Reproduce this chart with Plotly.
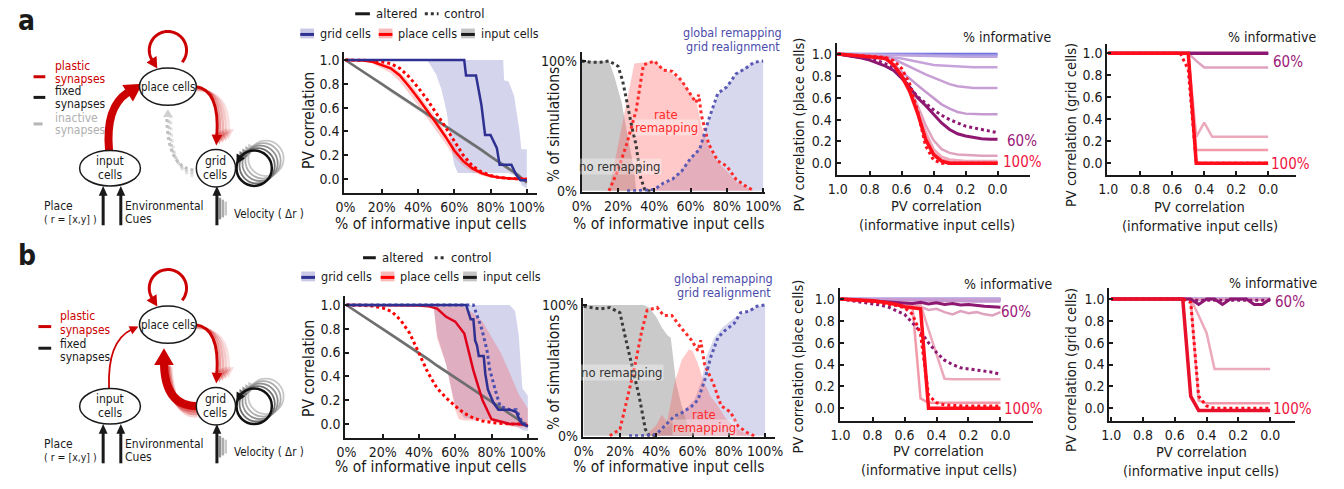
import math
import plotly.graph_objects as go

W, H = 1344, 489
FONT = "Liberation Sans Narrow, DejaVu Sans Condensed, Arial Narrow, sans-serif"
INK = "#1a1a1a"

# ---------------------------------------------------------------- DATA
PCT = [0.0, 0.05, 0.1, 0.15, 0.2, 0.25, 0.3, 0.35, 0.4, 0.45, 0.5,
       0.55, 0.6, 0.65, 0.7, 0.75, 0.8, 0.85, 0.9, 0.95, 1.0]
PV_IN = [1.0, 0.95, 0.9, 0.85, 0.8, 0.75, 0.7, 0.65, 0.6, 0.55, 0.5,
         0.45, 0.4, 0.35, 0.3, 0.25, 0.2, 0.15, 0.1, 0.05, 0.0]
PCT_TICKS = [0, 0.2, 0.4, 0.6, 0.8, 1.0]
PCT_LABELS = ["0%", "20%", "40%", "60%", "80%", "100%"]
PV_TICKS = [0.0, 0.2, 0.4, 0.6, 0.8, 1.0]
PV_LABELS = ["0.0", "0.2", "0.4", "0.6", "0.8", "1.0"]
SIM_TICKS = [0, 1]
SIM_LABELS = ["0%", "100%"]

# --- row a, PV correlation vs % informative input cells
a_input = [1.0, 0.95, 0.9, 0.85, 0.8, 0.745, 0.695, 0.645, 0.595, 0.545, 0.495,
           0.445, 0.395, 0.345, 0.295, 0.245, 0.19, 0.14, 0.09, 0.035, -0.03]
a_input_lo = [0.99, 0.94, 0.89, 0.835, 0.785, 0.73, 0.68, 0.63, 0.58, 0.53, 0.48,
              0.43, 0.38, 0.33, 0.28, 0.23, 0.175, 0.125, 0.075, 0.02, -0.05]
a_input_hi = [1.0, 0.96, 0.91, 0.865, 0.815, 0.76, 0.71, 0.66, 0.61, 0.56, 0.51,
              0.46, 0.41, 0.36, 0.31, 0.26, 0.205, 0.155, 0.105, 0.05, -0.01]
a_place = [1.0, 1.0, 0.995, 0.985, 0.96, 0.93, 0.87, 0.78, 0.68, 0.58, 0.47,
           0.36, 0.24, 0.15, 0.09, 0.05, 0.025, 0.012, 0.005, 0.0, 0.0]
a_place_lo = [1.0, 0.995, 0.985, 0.97, 0.93, 0.89, 0.82, 0.72, 0.62, 0.52, 0.41,
              0.3, 0.19, 0.11, 0.06, 0.03, 0.012, 0.004, 0.0, -0.005, -0.005]
a_place_hi = [1.0, 1.0, 1.0, 0.995, 0.98, 0.955, 0.9, 0.82, 0.72, 0.62, 0.51,
              0.4, 0.28, 0.18, 0.11, 0.07, 0.035, 0.02, 0.01, 0.005, 0.005]
a_place_ctl = [1.0, 1.0, 0.998, 0.993, 0.985, 0.97, 0.93, 0.86, 0.77, 0.67, 0.56,
               0.44, 0.32, 0.2, 0.11, 0.06, 0.03, 0.012, 0.005, 0.0, 0.0]
a_grid_x = [0.0, 0.655, 0.665, 0.72, 0.75, 0.77, 0.8, 0.835, 0.85, 0.915, 0.94, 0.965, 1.0]
a_grid = [1.0, 1.0, 0.87, 0.87, 0.62, 0.37, 0.37, 0.26, 0.12, 0.12, 0.04, -0.01, -0.01]
a_gband_x = [0.45, 0.5, 0.53, 0.56, 0.58, 0.6, 0.62, 0.7, 0.8, 0.87, 0.875, 0.9, 0.93, 0.96, 0.97, 1.0]
a_gband_hi = [1.0, 1.0, 1.0, 1.0, 1.0, 1.0, 1.0, 1.0, 1.0, 1.0, 0.83, 0.82, 0.7, 0.4, 0.25, 0.25]
a_gband_lo = [1.0, 0.88, 0.75, 0.55, 0.3, 0.12, 0.05, 0.05, 0.05, 0.05, 0.05, 0.05, 0.03, 0.0, -0.05, -0.08]

# --- row b, PV correlation vs % informative input cells
b_input = [1.0, 0.95, 0.9, 0.85, 0.8, 0.75, 0.7, 0.645, 0.595, 0.545, 0.49,
           0.44, 0.39, 0.34, 0.29, 0.24, 0.19, 0.14, 0.09, 0.035, -0.02]
b_input_lo = [0.99, 0.94, 0.89, 0.835, 0.785, 0.735, 0.685, 0.63, 0.58, 0.53, 0.475,
              0.425, 0.375, 0.325, 0.275, 0.225, 0.175, 0.125, 0.075, 0.02, -0.04]
b_input_hi = [1.0, 0.96, 0.91, 0.865, 0.815, 0.765, 0.715, 0.66, 0.61, 0.56, 0.505,
              0.455, 0.405, 0.355, 0.305, 0.255, 0.205, 0.155, 0.105, 0.05, 0.0]
b_place = [1.0, 1.0, 1.0, 1.0, 1.0, 1.0, 1.0, 0.998, 0.995, 0.99, 0.97,
           0.9, 0.86, 0.76, 0.45, 0.2, 0.04, 0.02, 0.0, 0.0, -0.01]
b_place_ctl = [1.0, 1.0, 0.995, 0.99, 0.975, 0.945, 0.87, 0.76, 0.6, 0.43, 0.3,
               0.22, 0.15, 0.09, 0.05, 0.025, 0.012, 0.005, 0.0, 0.0, 0.0]
b_pband_x = [0.45, 0.48, 0.5, 0.55, 0.6, 0.62, 0.65, 0.7, 0.75, 0.8, 0.85, 0.9, 0.95, 1.0]
b_pband_hi = [1.0, 1.0, 1.0, 1.0, 1.0, 1.0, 0.98, 0.93, 0.86, 0.73, 0.6, 0.43, 0.25, 0.13]
b_pband_lo = [1.0, 1.0, 0.72, 0.5, 0.12, 0.04, 0.03, 0.03, 0.03, 0.02, 0.0, -0.02, -0.03, -0.03]
b_grid_x = [0.0, 0.66, 0.685, 0.7, 0.71, 0.72, 0.73, 0.757, 0.766, 0.78, 0.81, 0.838, 0.9, 0.937, 0.955, 0.97, 1.0]
b_grid = [1.0, 1.0, 0.88, 0.88, 0.7, 0.66, 0.57, 0.57, 0.42, 0.29, 0.18, 0.12, 0.12, 0.1, 0.03, 0.0, -0.02]
b_grid_ctl_x = [0.0, 0.7, 0.73, 0.748, 0.775, 0.79, 0.82, 0.847, 0.9, 0.937, 0.97, 1.0]
b_grid_ctl = [1.0, 1.0, 0.87, 0.79, 0.62, 0.46, 0.29, 0.15, 0.12, 0.12, 0.01, -0.01]
b_gband_x = [0.45, 0.48, 0.5, 0.55, 0.6, 0.65, 0.7, 0.75, 0.8, 0.85, 0.9, 0.93, 0.95, 0.97, 1.0]
b_gband_hi = [1.0, 1.0, 1.0, 1.0, 1.0, 1.0, 1.0, 1.0, 1.0, 1.0, 1.0, 0.95, 0.75, 0.3, 0.24]
b_gband_lo = [1.0, 1.0, 0.75, 0.5, 0.15, 0.05, 0.04, 0.04, 0.04, 0.02, 0.0, -0.02, -0.03, -0.05, -0.06]

# --- row a, % of simulations (fills = altered, dotted = control)
a3_none_x = [0.0, 0.05, 0.1, 0.15, 0.18, 0.22, 0.25, 0.29, 0.3]
a3_none = [1.0, 1.0, 1.0, 1.0, 0.88, 0.68, 0.45, 0.15, 0.0]
a3_rate_x = [0.15, 0.2, 0.25, 0.29, 0.35, 0.4, 0.45, 0.5, 0.55, 0.6, 0.63, 0.66, 0.7, 0.75, 0.8, 0.85, 0.9, 0.95]
a3_rate = [0.0, 0.35, 0.7, 0.98, 0.99, 1.0, 0.94, 0.9, 0.85, 0.75, 0.7, 0.5, 0.33, 0.22, 0.15, 0.07, 0.03, 0.0]
a3_glob_x = [0.25, 0.3, 0.35, 0.4, 0.45, 0.5, 0.55, 0.6, 0.65, 0.7, 0.75, 0.8, 0.85, 0.9, 0.95, 1.0]
a3_glob = [0.0, 0.0, 0.003, 0.01, 0.05, 0.09, 0.16, 0.25, 0.33, 0.55, 0.74, 0.81, 0.9, 0.95, 0.99, 1.0]
a3_none_ctl_x = [0.0, 0.05, 0.1, 0.15, 0.2, 0.225, 0.25, 0.275, 0.3, 0.325, 0.35, 0.4]
a3_none_ctl = [1.0, 0.99, 0.99, 1.0, 0.96, 0.85, 0.68, 0.5, 0.35, 0.1, 0.0, 0.0]
a3_rate_ctl_x = [0.15, 0.2, 0.25, 0.3, 0.34, 0.4, 0.45, 0.5, 0.55, 0.6, 0.63, 0.645, 0.66, 0.7, 0.75, 0.8, 0.85, 0.9, 0.95]
a3_rate_ctl = [0.0, 0.16, 0.37, 0.62, 0.97, 1.0, 0.93, 0.92, 0.85, 0.75, 0.68, 0.74, 0.58, 0.36, 0.23, 0.19, 0.09, 0.04, 0.0]
a3_glob_ctl_x = [0.25, 0.3, 0.35, 0.4, 0.45, 0.5, 0.55, 0.6, 0.65, 0.7, 0.75, 0.8, 0.85, 0.9, 0.95, 1.0]
a3_glob_ctl = [0.0, 0.0, 0.005, 0.01, 0.06, 0.09, 0.15, 0.25, 0.32, 0.55, 0.75, 0.8, 0.9, 0.94, 0.99, 1.0]

# --- row b, % of simulations
b3_none_x = [0.0, 0.1, 0.2, 0.3, 0.33, 0.36, 0.4, 0.43, 0.46, 0.48, 0.495, 0.51, 0.54, 0.575, 0.6]
b3_none = [1.0, 1.0, 1.0, 1.0, 1.0, 0.98, 0.91, 0.83, 0.77, 0.75, 0.55, 0.4, 0.23, 0.075, 0.0]
b3_rate_x = [0.34, 0.4, 0.43, 0.46, 0.5, 0.54, 0.58, 0.6, 0.63, 0.66, 0.7, 0.74, 0.78, 0.82, 0.86, 0.9, 0.94]
b3_rate = [0.0, 0.08, 0.16, 0.11, 0.4, 0.58, 0.66, 0.65, 0.55, 0.42, 0.3, 0.23, 0.14, 0.08, 0.04, 0.01, 0.0]
b3_glob_x = [0.32, 0.41, 0.47, 0.54, 0.61, 0.65, 0.675, 0.72, 0.766, 0.83, 0.9, 0.955, 1.0]
b3_glob = [0.0, 0.025, 0.075, 0.175, 0.275, 0.42, 0.6, 0.75, 0.83, 0.9, 0.95, 0.99, 1.0]
b3_none_ctl_x = [0.0, 0.09, 0.144, 0.2, 0.23, 0.27, 0.306, 0.34, 0.36, 0.4]
b3_none_ctl = [0.99, 0.97, 0.98, 0.94, 0.75, 0.52, 0.3, 0.05, 0.0, 0.0]
b3_rate_ctl_x = [0.144, 0.2, 0.23, 0.28, 0.32, 0.35, 0.405, 0.44, 0.486, 0.54, 0.595, 0.63, 0.645,
                 0.666, 0.72, 0.757, 0.81, 0.85, 0.9, 0.94]
b3_rate_ctl = [0.0, 0.05, 0.225, 0.52, 0.8, 0.96, 0.98, 0.92, 0.92, 0.82, 0.73, 0.65, 0.73,
               0.55, 0.38, 0.23, 0.18, 0.075, 0.025, 0.0]
b3_glob_ctl_x = [0.25, 0.32, 0.4, 0.43, 0.5, 0.54, 0.595, 0.63, 0.666, 0.7, 0.74, 0.775, 0.83,
                 0.865, 0.91, 0.955, 1.0]
b3_glob_ctl = [0.0, 0.0, 0.01, 0.05, 0.15, 0.175, 0.225, 0.275, 0.42, 0.6, 0.75, 0.8, 0.86,
               0.94, 0.95, 0.99, 1.0]

# --- row a, place cells vs PV of informative inputs, per % informative
a4_p00 = [1.0, 1.0, 1.0, 1.0, 1.0, 1.0, 1.0, 1.0, 1.0, 1.0, 1.0, 1.0, 1.0, 1.0, 1.0, 1.0, 1.0, 1.0, 1.0, 1.0, 1.0]
a4_p10 = [1.0, 1.0, 1.0, 1.0, 1.0, 1.0, 0.999, 0.998, 0.997, 0.996, 0.995, 0.994, 0.993, 0.993, 0.992, 0.992, 0.992, 0.992, 0.992, 0.992, 0.992]
a4_p20 = [1.0, 1.0, 1.0, 0.998, 0.996, 0.994, 0.992, 0.99, 0.988, 0.985, 0.982, 0.98, 0.978, 0.977, 0.976, 0.975, 0.975, 0.975, 0.975, 0.975, 0.975]
a4_p30 = [1.0, 1.0, 0.998, 0.995, 0.99, 0.985, 0.978, 0.97, 0.96, 0.945, 0.925, 0.91, 0.9, 0.895, 0.89, 0.885, 0.88, 0.88, 0.88, 0.88, 0.88]
a4_p40 = [1.0, 1.0, 0.998, 0.995, 0.99, 0.985, 0.975, 0.955, 0.92, 0.88, 0.845, 0.815, 0.785, 0.755, 0.725, 0.705, 0.695, 0.69, 0.69, 0.69, 0.69]
a4_p50 = [1.0, 1.0, 0.997, 0.993, 0.985, 0.975, 0.955, 0.905, 0.84, 0.775, 0.715, 0.655, 0.595, 0.54, 0.5, 0.47, 0.455, 0.45, 0.45, 0.45, 0.45]
a4_p60 = [1.0, 0.99, 0.98, 0.965, 0.945, 0.92, 0.89, 0.85, 0.78, 0.7, 0.6, 0.53, 0.45, 0.37, 0.31, 0.27, 0.25, 0.235, 0.225, 0.22, 0.22]
a4_p60c = [1.0, 0.99, 0.985, 0.975, 0.96, 0.94, 0.91, 0.87, 0.8, 0.7, 0.61, 0.55, 0.49, 0.44, 0.4, 0.37, 0.34, 0.325, 0.31, 0.295, 0.28]
a4_p70 = [1.0, 0.995, 0.99, 0.985, 0.975, 0.965, 0.95, 0.9, 0.82, 0.69, 0.53, 0.35, 0.21, 0.13, 0.095, 0.08, 0.075, 0.07, 0.07, 0.07, 0.07]
a4_p80 = [1.0, 0.995, 0.99, 0.985, 0.98, 0.97, 0.955, 0.9, 0.81, 0.68, 0.5, 0.29, 0.13, 0.06, 0.035, 0.025, 0.02, 0.02, 0.02, 0.02, 0.02]
a4_p90 = [1.0, 0.995, 0.99, 0.985, 0.98, 0.97, 0.96, 0.9, 0.8, 0.67, 0.48, 0.26, 0.1, 0.035, 0.015, 0.01, 0.01, 0.01, 0.01, 0.01, 0.01]
a4_p100 = [1.0, 0.995, 0.99, 0.985, 0.98, 0.97, 0.96, 0.9, 0.8, 0.66, 0.46, 0.22, 0.08, 0.02, 0.0, 0.0, 0.0, 0.0, 0.0, 0.0, 0.0]
a4_p100c = [1.0, 0.995, 0.99, 0.985, 0.98, 0.975, 0.97, 0.94, 0.87, 0.73, 0.48, 0.16, 0.03, 0.0, 0.0, 0.0, 0.0, 0.0, 0.0, 0.0, 0.0]

# --- row a, grid cells
a5_p0_60 = [1.0, 1.0, 1.0, 1.0, 1.0, 1.0, 1.0, 1.0, 1.0, 1.0, 1.0, 1.0, 1.0, 1.0, 1.0, 1.0, 1.0, 1.0, 1.0, 1.0, 1.0]
a5_p70 = [1.0, 1.0, 1.0, 1.0, 1.0, 1.0, 1.0, 1.0, 1.0, 1.0, 1.0, 0.93, 0.87, 0.87, 0.87, 0.87, 0.87, 0.87, 0.87, 0.87, 0.87]
a5_p80 = [1.0, 1.0, 1.0, 1.0, 1.0, 1.0, 1.0, 1.0, 1.0, 1.0, 1.0, 0.24, 0.37, 0.24, 0.24, 0.24, 0.24, 0.24, 0.24, 0.24, 0.24]
a5_p90 = [1.0, 1.0, 1.0, 1.0, 1.0, 1.0, 1.0, 1.0, 1.0, 1.0, 1.0, 0.12, 0.12, 0.12, 0.12, 0.12, 0.12, 0.12, 0.12, 0.12, 0.12]
a5_p100 = [1.0, 1.0, 1.0, 1.0, 1.0, 1.0, 1.0, 1.0, 1.0, 1.0, 1.0, 0.0, 0.0, 0.0, 0.0, 0.0, 0.0, 0.0, 0.0, 0.0, 0.0]
a5_p100c = [1.0, 1.0, 1.0, 1.0, 1.0, 1.0, 1.0, 1.0, 1.0, 1.0, 0.85, 0.0, 0.0, 0.0, 0.0, 0.0, 0.0, 0.0, 0.0, 0.0, 0.0]

# --- row b, place cells
b4_p0_30 = [1.0, 1.0, 1.0, 1.0, 1.0, 1.0, 1.0, 1.0, 1.0, 1.0, 1.0, 1.0, 1.0, 1.0, 1.0, 1.0, 1.0, 1.0, 1.0, 1.0, 1.0]
b4_p40 = [1.0, 1.0, 1.0, 1.0, 1.0, 0.999, 0.998, 0.997, 0.996, 0.995, 0.994, 0.993, 0.992, 0.991, 0.99, 0.99, 0.99, 0.99, 0.99, 0.99, 0.99]
b4_p50 = [1.0, 1.0, 1.0, 0.999, 0.998, 0.996, 0.994, 0.992, 0.99, 0.988, 0.986, 0.984, 0.982, 0.98, 0.98, 0.98, 0.978, 0.978, 0.978, 0.978, 0.978]
b4_p60 = [1.0, 0.995, 0.99, 0.985, 0.98, 0.975, 0.97, 0.97, 0.965, 0.96, 0.97, 0.955, 0.965, 0.95, 0.96, 0.945, 0.95, 0.94, 0.935, 0.93, 0.925]
b4_p60c = [1.0, 0.99, 0.98, 0.97, 0.96, 0.945, 0.925, 0.895, 0.86, 0.78, 0.7, 0.6, 0.51, 0.44, 0.4, 0.37, 0.36, 0.355, 0.345, 0.33, 0.31]
b4_p70 = [1.0, 0.995, 0.99, 0.985, 0.98, 0.975, 0.97, 0.965, 0.96, 0.95, 0.93, 0.9, 0.91, 0.88, 0.86, 0.89, 0.87, 0.88, 0.86, 0.85, 0.88]
b4_p80 = [1.0, 0.995, 0.99, 0.985, 0.98, 0.975, 0.97, 0.965, 0.96, 0.96, 0.95, 0.72, 0.5, 0.27, 0.265, 0.265, 0.265, 0.265, 0.265, 0.265, 0.265]
b4_p90 = [1.0, 0.995, 0.99, 0.985, 0.98, 0.975, 0.97, 0.965, 0.96, 0.93, 0.09, 0.05, 0.05, 0.05, 0.05, 0.05, 0.05, 0.05, 0.05, 0.05, 0.05]
b4_p100 = [1.0, 0.998, 0.995, 0.99, 0.985, 0.975, 0.965, 0.95, 0.93, 0.92, 0.91, 0.0, 0.0, 0.0, 0.0, 0.0, 0.0, 0.0, 0.0, 0.0, 0.0]
b4_p100c = [1.0, 0.995, 0.99, 0.985, 0.975, 0.965, 0.955, 0.94, 0.92, 0.86, 0.68, 0.12, 0.05, 0.03, 0.025, 0.02, 0.02, 0.02, 0.02, 0.02, 0.02]

# --- row b, grid cells
b5_p0_50 = [1.0, 1.0, 1.0, 1.0, 1.0, 1.0, 1.0, 1.0, 1.0, 1.0, 1.0, 1.0, 1.0, 1.0, 1.0, 1.0, 1.0, 1.0, 1.0, 1.0, 1.0]
b5_p60 = [1.0, 1.0, 1.0, 1.0, 1.0, 1.0, 1.0, 1.0, 1.0, 1.0, 1.0, 0.95, 1.0, 1.0, 0.95, 1.0, 1.0, 1.0, 0.95, 0.95, 1.0]
b5_p60c = [1.0, 1.0, 1.0, 1.0, 1.0, 1.0, 1.0, 1.0, 1.0, 1.0, 0.99, 0.99, 0.99, 0.99, 0.99, 0.99, 0.99, 0.99, 0.99, 0.99, 0.99]
b5_p70 = [1.0, 1.0, 1.0, 1.0, 1.0, 1.0, 1.0, 1.0, 1.0, 1.0, 0.995, 0.995, 0.995, 0.995, 0.995, 0.995, 0.995, 0.995, 0.995, 0.995, 0.995]
b5_p80 = [1.0, 1.0, 1.0, 1.0, 1.0, 1.0, 1.0, 1.0, 1.0, 1.0, 1.0, 0.85, 0.69, 0.36, 0.36, 0.36, 0.36, 0.36, 0.36, 0.36, 0.36]
b5_p90 = [1.0, 1.0, 1.0, 1.0, 1.0, 1.0, 1.0, 1.0, 1.0, 1.0, 1.0, 0.07, 0.045, 0.045, 0.045, 0.045, 0.045, 0.045, 0.045, 0.045, 0.045]
b5_p100 = [1.0, 1.0, 1.0, 1.0, 1.0, 1.0, 1.0, 1.0, 1.0, 1.0, 0.11, -0.02, -0.02, -0.02, -0.02, -0.02, -0.02, -0.02, -0.02, -0.02, -0.02]
b5_p100c = [1.0, 1.0, 1.0, 1.0, 1.0, 1.0, 1.0, 1.0, 1.0, 1.0, 0.97, 0.11, 0.02, 0.0, 0.0, 0.0, 0.0, 0.0, 0.0, 0.0, 0.0]

# ---------------------------------------------------------------- STYLE
C_GRID, C_PLACE, C_INPUT = "#2e3192", "#ff0000", "#6e6e6e"
B_GRID, B_PLACE, B_INPUT = "rgba(120,120,200,0.32)", "rgba(255,60,60,0.25)", "rgba(120,120,120,0.35)"
PCOL = {0: "#6464dc", 10: "#9a94e4", 20: "#bda6e0", 30: "#c6a3da", 40: "#c79fd5", 50: "#c69ad0",
        60: "#8e1871", 70: "#e0a3bf", 80: "#eca9bb", 90: "#f39aaa", 100: "#ff0d1a"}
RED_S = "#cc0000"

# axis placement: (value_a, pixel_a, value_b, pixel_b, pixel_start, pixel_end)
PANELS = {
    1: ((0, 342, 1, 527, 341, 537), (1, 60, 0, 181, 52, 195)),
    2: ((0, 583, 1, 768, 583, 770), (1, 61, 0, 193, 52, 194)),
    3: ((1, 844, 0, 1007, 843, 1040), (1, 54, 0, 165, 43, 177)),
    4: ((1, 1120, 0, 1283, 1119, 1311), (1, 53, 0, 165, 44, 177)),
    5: ((0, 343, 1, 528, 342, 538), (1, 309, 0, 430, 300, 444)),
    6: ((0, 585, 1, 770, 584, 780), (1, 309, 0, 442, 302, 443)),
    7: ((1, 847, 0, 1010, 846, 1043), (1, 303, 0, 414, 292, 427)),
    8: ((1, 1123, 0, 1285, 1121, 1310), (1, 303, 0, 414, 292, 427)),
}


def vrange(va, pa, vb, pb, p0, p1):
    k = (pb - pa) / (vb - va)
    return [va + (p0 - pa) / k, va + (p1 - pa) / k]


AXSTYLE = dict(showline=True, linecolor=INK, linewidth=2, ticks="inside", ticklen=4, tickwidth=1.5,
               tickcolor=INK, showgrid=False, zeroline=False, fixedrange=True,
               tickfont=dict(size=14, color=INK, family=FONT))

layout_axes = {}
for i, (xs, ys) in PANELS.items():
    s = "" if i == 1 else str(i)
    xr = vrange(*xs)
    yr = vrange(ys[0], ys[1], ys[2], ys[3], ys[5], ys[4])
    if i in (1, 2, 5, 6):
        xt = dict(tickvals=PCT_TICKS, ticktext=PCT_LABELS)
    else:
        xt = dict(tickvals=PV_TICKS, ticktext=PV_LABELS)
    if i in (2, 6):
        yt = dict(tickvals=SIM_TICKS, ticktext=SIM_LABELS)
    else:
        yt = dict(tickvals=PV_TICKS, ticktext=PV_LABELS)
    layout_axes["xaxis" + s] = dict(domain=[xs[4] / W, xs[5] / W], range=xr, anchor="y" + s, **xt, **AXSTYLE)
    layout_axes["yaxis" + s] = dict(domain=[1 - ys[5] / H, 1 - ys[4] / H], range=yr, anchor="x" + s, **yt, **AXSTYLE)

fig = go.Figure()


def ax(i):
    s = "" if i == 1 else str(i)
    return dict(xaxis="x" + s, yaxis="y" + s)


def line(i, x, y, color, width=2.5, dash="solid"):
    fig.add_trace(go.Scatter(x=x, y=y, mode="lines", line=dict(color=color, width=width, dash=dash),
                             showlegend=False, hoverinfo="skip", **ax(i)))


def band(i, x, lo, hi, color):
    fig.add_trace(go.Scatter(x=list(x) + list(x)[::-1], y=list(hi) + list(lo)[::-1], mode="lines",
                             fill="toself", fillcolor=color, line=dict(width=0), showlegend=False,
                             hoverinfo="skip", **ax(i)))


def area(i, x, y, color):
    fig.add_trace(go.Scatter(x=x, y=y, mode="lines", fill="tozeroy", fillcolor=color,
                             line=dict(width=0), showlegend=False, hoverinfo="skip", **ax(i)))


# ---- panel a2
band(1, a_gband_x, a_gband_lo, a_gband_hi, B_GRID)
band(1, PCT, a_place_lo, a_place_hi, B_PLACE)
band(1, PCT, a_input_lo, a_input_hi, B_INPUT)
line(1, PCT, a_input, C_INPUT, 2.5)
line(1, PCT, a_place_ctl, C_PLACE, 3, "dot")
line(1, PCT, a_place, C_PLACE, 2.5)
line(1, a_grid_x, a_grid, C_GRID, 2.5)

# ---- panel b2
band(5, b_gband_x, b_gband_lo, b_gband_hi, B_GRID)
band(5, b_pband_x, b_pband_lo, b_pband_hi, B_PLACE)
band(5, PCT, b_input_lo, b_input_hi, B_INPUT)
line(5, PCT, b_input, C_INPUT, 2.5)
line(5, PCT, b_place_ctl, C_PLACE, 3, "dot")
line(5, PCT, b_place, "#e0001a", 2.5)
line(5, b_grid_ctl_x, b_grid_ctl, "#4b4fb0", 3, "dot")
line(5, b_grid_x, b_grid, C_GRID, 2.5)

# ---- panels a3 / b3
F_NONE, F_RATE, F_GLOB = "rgba(150,150,150,0.5)", "rgba(255,90,90,0.33)", "rgba(110,110,190,0.28)"
for i, nx, ny, rx, ry, gx, gy, ncx, ncy, rcx, rcy, gcx, gcy in (
        (2, a3_none_x, a3_none, a3_rate_x, a3_rate, a3_glob_x, a3_glob,
         a3_none_ctl_x, a3_none_ctl, a3_rate_ctl_x, a3_rate_ctl, a3_glob_ctl_x, a3_glob_ctl),
        (6, b3_none_x, b3_none, b3_rate_x, b3_rate, b3_glob_x, b3_glob,
         b3_none_ctl_x, b3_none_ctl, b3_rate_ctl_x, b3_rate_ctl, b3_glob_ctl_x, b3_glob_ctl)):
    area(i, gx, gy, F_GLOB)
    area(i, nx, ny, F_NONE)
    area(i, rx, ry, F_RATE)
    line(i, ncx, ncy, "#3a3a3a", 3, "dot")
    line(i, rcx, rcy, "#ff2a2a", 3, "dot")
    line(i, gcx, gcy, "#5a5ab4", 3, "dot")

# ---- panel a4
for key, y in ((0, a4_p00), (10, a4_p10), (20, a4_p20), (30, a4_p30), (40, a4_p40), (50, a4_p50),
               (70, a4_p70), (80, a4_p80), (90, a4_p90)):
    line(3, PV_IN, y, PCOL[key], 2.5)
line(3, PV_IN, a4_p60c, PCOL[60], 3, "dot")
line(3, PV_IN, a4_p60, PCOL[60], 3)
line(3, PV_IN, a4_p100c, PCOL[100], 3, "dot")
line(3, PV_IN, a4_p100, PCOL[100], 3.5)

# ---- panel a5
for key in (0, 10, 20, 30, 40, 50):
    line(4, PV_IN, a5_p0_60, PCOL[key], 2.5)
for key, y in ((70, a5_p70), (80, a5_p80), (90, a5_p90)):
    line(4, PV_IN, y, PCOL[key], 2.5)
line(4, PV_IN, a5_p0_60, PCOL[60], 3.5)
line(4, PV_IN, a5_p100c, PCOL[100], 3, "dot")
line(4, PV_IN, a5_p100, PCOL[100], 3.5)

# ---- panel b4
for key in (0, 10, 20, 30):
    line(7, PV_IN, b4_p0_30, PCOL[key], 2.5)
for key, y in ((40, b4_p40), (50, b4_p50), (70, b4_p70), (80, b4_p80), (90, b4_p90)):
    line(7, PV_IN, y, PCOL[key], 2.5)
line(7, PV_IN, b4_p60c, PCOL[60], 3, "dot")
line(7, PV_IN, b4_p60, PCOL[60], 3)
line(7, PV_IN, b4_p100c, PCOL[100], 3, "dot")
line(7, PV_IN, b4_p100, PCOL[100], 3.5)

# ---- panel b5
for key in (0, 10, 20, 30, 40, 50):
    line(8, PV_IN, b5_p0_50, PCOL[key], 2.5)
for key, y in ((70, b5_p70), (80, b5_p80), (90, b5_p90)):
    line(8, PV_IN, y, PCOL[key], 2.5)
line(8, PV_IN, b5_p60c, PCOL[60], 3, "dot")
line(8, PV_IN, b5_p60, PCOL[60], 3)
line(8, PV_IN, b5_p100c, PCOL[100], 3, "dot")
line(8, PV_IN, b5_p100, "#e8102a", 3.5)

# ---------------------------------------------------------------- DRAWING HELPERS (pixel coords)
shapes, annos = [], []


def P(x, y):
    return f"{x / W:.5f},{1 - y / H:.5f}"


def add_path(cmds, color, width, dash="solid", fill=None, close=False):
    parts = []
    for c, pts in cmds:
        if c == "L":
            parts.extend("L " + P(*p) for p in pts)
        else:
            parts.append(c + " " + " ".join(P(*p) for p in pts))
    d = " ".join(parts) + (" Z" if close else "")
    sh = dict(type="path", xref="paper", yref="paper", path=d, layer="above",
              line=dict(color=color, width=width, dash=dash))
    if fill:
        sh["fillcolor"] = fill
    shapes.append(sh)


def add_head(tip, d, L, w, color):
    n = math.hypot(*d)
    ux, uy = d[0] / n, d[1] / n
    bx, by = tip[0] - ux * L, tip[1] - uy * L
    nx, ny = -uy, ux
    add_path([("M", [tip]), ("L", [(bx + nx * w, by + ny * w), (bx - nx * w, by - ny * w)])],
             color, 0, fill=color, close=True)


def add_ellipse(cx, cy, rx, ry, color=INK, width=1.5, fill="white"):
    shapes.append(dict(type="circle", xref="paper", yref="paper", x0=(cx - rx) / W, x1=(cx + rx) / W,
                       y0=1 - (cy + ry) / H, y1=1 - (cy - ry) / H, line=dict(color=color, width=width),
                       fillcolor=fill, layer="above"))


def add_rect(x0, y0, x1, y1, fill):
    shapes.append(dict(type="rect", xref="paper", yref="paper", x0=x0 / W, x1=x1 / W, y0=1 - y1 / H,
                       y1=1 - y0 / H, line=dict(width=0), fillcolor=fill, layer="above"))


def add_seg(x0, y0, x1, y1, color, width, dash="solid"):
    add_path([("M", [(x0, y0)]), ("L", [(x1, y1)])], color, width, dash)


def arc_pts(cx, cy, r, a0, a1, n=48):
    return [(cx + r * math.cos(math.radians(a0 + (a1 - a0) * t / n)),
             cy + r * math.sin(math.radians(a0 + (a1 - a0) * t / n))) for t in range(n + 1)]


def text(x, y, s, size=13, color=INK, anchor="center", angle=0, bold=False, bg=None):
    a = dict(xref="paper", yref="paper", x=x / W, y=1 - y / H, text=f"<b>{s}</b>" if bold else s,
             showarrow=False, xanchor=anchor, yanchor="middle", textangle=angle,
             font=dict(size=size, color=color, family=FONT), borderpad=0)
    if bg:
        a["bgcolor"] = bg
    annos.append(a)


def schematic(dy, row):
    # place-cell recurrent loop
    pts = arc_pts(161, 50 + dy, 19, 40, -212)
    add_path([("M", [pts[0]]), ("L", pts[1:])], RED_S, 3)
    a1 = math.radians(-212)
    d = (math.sin(a1), -math.cos(a1))
    e = pts[-1]
    add_head((e[0] + d[0] * 10, e[1] + d[1] * 10), d, 11, 6, RED_S)
    # grid recurrent loops
    greys = ["#111111", "#707070", "#909090", "#adadad", "#c8c8c8"]
    for k in range(4, -1, -1):
        cx, cy = 249 + 3 * k, 170 + dy - 2.5 * k
        add_ellipse(cx, cy, 18, 18, greys[k], 1.8 if k else 2.5, "rgba(0,0,0,0)")
        a = math.radians(-150)
        p = (cx + 18 * math.cos(a), cy + 18 * math.sin(a))
        dd = (math.sin(a), -math.cos(a))
        add_head((p[0] + dd[0] * 5, p[1] + dd[1] * 5), dd, 9, 5, greys[k])
    # place -> grid fan
    for k in range(4, -1, -1):
        col = RED_S if k == 0 else f"rgba(215,60,60,{0.6 - 0.11 * k:.2f})"
        s, c, e = (189, 87 + dy + k), (214 + 2.5 * k, 90 + dy), (211 + 3 * k, 137 + dy - 1.5 * k)
        add_path([("M", [s]), ("Q", [c, e])], col, 3 if k == 0 else 2.5)
        dd = (e[0] - c[0], e[1] - c[1])
        n = math.hypot(*dd)
        add_head((e[0] + dd[0] / n * 10, e[1] + dd[1] / n * 10), dd, 11, 5.5, col)
    if row == "a":
        # thick plastic input -> place
        add_path([("M", [(101, 152 + dy)]), ("Q", [(97, 108 + dy), (120, 93 + dy)])], RED_S, 8)
        add_head((135, 84 + dy), (23, -15), 18, 10, RED_S)
        # inactive grid -> place
        for k in range(2, -1, -1):
            col = f"rgba(185,185,185,{0.9 - 0.25 * k:.2f})"
            add_path([("M", [(187, 172 + dy + 3 * k)]), ("Q", [(160 + 2 * k, 168 + dy + 2 * k), (160 + 2 * k, 118 + dy)])],
                     col, 3, "dot")
        add_head((161, 110 + dy), (0, -1), 8, 5, "#d0d0d0")
    else:
        # thin plastic input -> place
        add_path([("M", [(101, 152 + dy)]), ("Q", [(99, 104 + dy), (124, 92 + dy)])], RED_S, 1.8)
        add_head((131, 89 + dy), (26, -12), 9, 4.5, RED_S)
        # thick plastic grid -> place fan
        for k in range(3, -1, -1):
            col = RED_S if k == 0 else f"rgba(215,50,50,{0.75 - 0.18 * k:.2f})"
            add_path([("M", [(191, 170 + dy + 3 * k)]), ("Q", [(158 + 3 * k, 170 + dy + 4 * k), (157 + 2 * k, 127 + dy + k)])],
                     col, 8 - k)
        add_head((157, 111 + dy), (0, -1), 17, 10, RED_S)
    # external inputs
    for x in (95, 113):
        add_seg(x, 228 + dy, x, 197 + dy, INK, 3)
        add_head((x, 188 + dy), (0, -1), 10, 4.5, INK)
    for k in range(3, 0, -1):
        x = 211 + 3 * k
        add_seg(x, 224 + dy - 2 * k, x, 198 + dy + 2 * k, greys[k + 1], 2.5)
    add_seg(211, 228 + dy, 211, 197 + dy, INK, 3)
    add_head((211, 188 + dy), (0, -1), 10, 4.5, INK)
    # cells
    add_ellipse(161, 87 + dy, 29, 19)
    add_ellipse(102, 170 + dy, 31, 18)
    add_ellipse(210, 170 + dy, 20, 19)
    text(161, 87 + dy, "place cells", 11.5)
    text(102, 163 + dy, "input", 12)
    text(102, 177 + dy, "cells", 12)
    text(210, 163 + dy, "grid", 12)
    text(210, 177 + dy, "cells", 12)
    text(34, 208 + dy, "Place", 12, anchor="left")
    text(34, 222 + dy, "( r = [x,y] )", 10.5, anchor="left")
    text(116, 208 + dy, "Environmental", 12, anchor="left")
    text(116, 222 + dy, "Cues", 12, anchor="left")
    text(227, 217 + dy, "Velocity ( Δr )", 11.5, anchor="left")


schematic(0, "a")
schematic(242, "b")
text(17, 20, "a", 28, bold=True)
text(17, 259, "b", 28, bold=True)

# synapse legends
add_seg(24, 77, 36, 77, RED_S, 3)
text(45, 66, "plastic", 12, RED_S, "left")
text(45, 79, "synapses", 12, RED_S, "left")
add_seg(24, 98, 36, 98, INK, 3)
text(45, 92, "fixed", 12, INK, "left")
text(45, 105, "synapses", 12, INK, "left")
add_seg(24, 125, 36, 125, "#b5b5b5", 3, "dash")
text(45, 119, "inactive", 12, "#b0b0b0", "left")
text(45, 131, "synapses", 12, "#b0b0b0", "left")
add_seg(29, 331, 42, 331, RED_S, 3)
text(50, 320, "plastic", 12, RED_S, "left")
text(50, 334, "synapses", 12, RED_S, "left")
add_seg(29, 353, 42, 353, INK, 3)
text(50, 349, "fixed", 12, INK, "left")
text(50, 362, "synapses", 12, INK, "left")


# legends of PV panels
def pv_legend(yy1, yy2, alt, ctl, gx, px_, ix):
    add_seg(alt[0], yy1, alt[1], yy1, INK, 3)
    text(alt[1] + 5, yy1, "altered", 13, INK, "left")
    add_seg(ctl[0], yy1, ctl[1], yy1, "#333333", 3, "dot")
    text(ctl[1] + 5, yy1, "control", 13, INK, "left")
    for x0, fillc, linec, lab in ((gx, "#c9c9e6", C_GRID, "grid cells"), (px_, "#f9b9b9", C_PLACE, "place cells"),
                                  (ix, "#c4c4c4", INK, "input cells")):
        add_rect(x0, yy2 - 5, x0 + 14, yy2 + 5, fillc)
        add_seg(x0, yy2 + 1, x0 + 14, yy2 + 1, linec, 3)
        text(x0 + 19, yy2, lab, 12.5, INK, "left")


pv_legend(13, 33, (352, 367), (423, 437), 296, 376, 460)
pv_legend(261, 280, (360, 373), (433, 444), 297, 378, 462)

# axis titles
for yy, xt_y in ((122, 227), (374, 474)):
    text(305, yy, "PV correlation", 15.5, angle=-90)
    text(429, xt_y, "% of informative input cells", 15.5)
    text(555, yy + 3, "% of simulations", 15.5, angle=-90)
    text(671, xt_y, "% of informative input cells", 15.5)
text(805, 125, "PV correlation (place cells)", 14.5, angle=-90)
text(1082, 126, "PV correlation (grid cells)", 14.5, angle=-90)
text(945, 208, "PV correlation", 14.5)
text(945, 228, "(informative input cells)", 14.5)
text(1213, 209, "PV correlation", 14.5)
text(1213, 229, "(informative input cells)", 14.5)
text(803, 371, "PV correlation (place cells)", 14.5, angle=-90)
text(1082, 375, "PV correlation (grid cells)", 14.5, angle=-90)
text(947, 457, "PV correlation", 14.5)
text(947, 477, "(informative input cells)", 14.5)
text(1215, 458, "PV correlation", 14.5)
text(1215, 478, "(informative input cells)", 14.5)

# in-panel labels
BLUE_T = "#4b4bab"
text(737, 32, "global remapping", 12.5, BLUE_T)
text(737, 46, "grid realignment", 12.5, BLUE_T)
text(669, 115, "rate", 13, "#ff2a2a")
text(669, 129, "remapping", 13, "#ff2a2a", bg="rgba(255,255,255,0.35)")
text(622, 168, "no remapping", 13, "#333333", bg="rgba(255,255,255,0.35)")
text(728, 282, "global remapping", 12.5, BLUE_T)
text(728, 296, "grid realignment", 12.5, BLUE_T)
text(624, 378, "no remapping", 13, "#333333", bg="rgba(255,255,255,0.35)")
text(708, 420, "rate", 13, "#ff2a2a")
text(708, 434, "remapping", 13, "#ff2a2a", bg="rgba(255,255,255,0.35)")

PURP_T, RED_T = "#9b1a7a", "#f0153f"
text(1017, 37, "% informative", 14)
text(1032, 142, "60%", 15, PURP_T)
text(1032, 164, "100%", 15, RED_T)
text(1287, 37, "% informative", 14)
text(1303, 62, "60%", 15, PURP_T)
text(1306, 166, "100%", 15, RED_T)
text(1018, 288, "% informative", 14)
text(1026, 316, "60%", 15, PURP_T)
text(1034, 415, "100%", 15, RED_T)
text(1288, 287, "% informative", 14)
text(1305, 306, "60%", 15, PURP_T)
text(1308, 415, "100%", 15, RED_T)

fig.update_layout(width=W, height=H, autosize=False, margin=dict(l=0, r=0, t=0, b=0),
                  paper_bgcolor="white", plot_bgcolor="white", showlegend=False,
                  font=dict(family=FONT, color=INK), shapes=shapes, annotations=annos, **layout_axes)
fig.write_html("out.html")
